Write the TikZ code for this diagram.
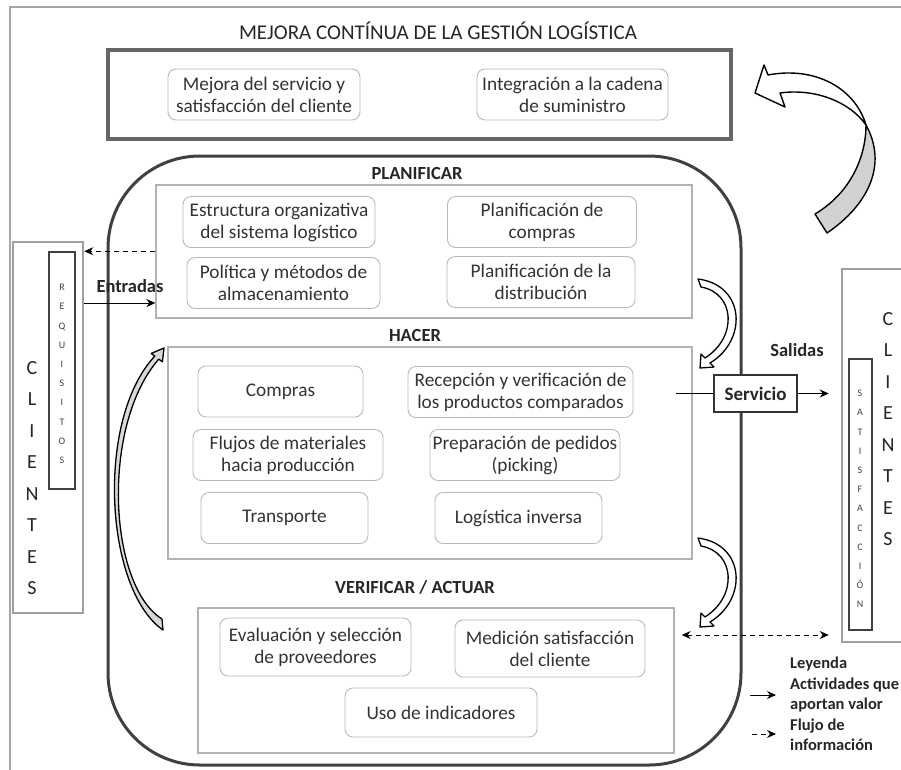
\documentclass[tikz,border=0pt]{standalone}
\usepackage{fontspec}
\setmainfont{Carlito}
\usetikzlibrary{arrows.meta,positioning}

\begin{document}
\begin{tikzpicture}[
    x=1pt, y=-1pt,
    font=\fontsize{19.3}{22}\selectfont,
    act/.style={draw=gray!55,line width=0.9pt,rounded corners=8pt,align=center,
                minimum height=51pt,inner sep=1pt,text=black!80},
    sect/.style={draw=gray!60,line width=1.3pt,inner sep=0pt},
    ttl/.style={font=\fontsize{18.5}{22}\selectfont\bfseries,text=black!85},
    cli/.style={draw=gray!75,line width=2.5pt,inner sep=0pt},
    tag/.style={draw=black!75,line width=1.5pt,inner sep=0pt},
    vert/.style={align=center,inner sep=0pt,text=black!85,
                 font=\fontsize{20}{31.5}\selectfont},
    small/.style={align=center,inner sep=0pt,text=black!75,
                  font=\fontsize{10}{19.2}\selectfont},
    leg/.style={align=left,inner sep=0pt,text=black!85,
                font=\fontsize{16.5}{20.5}\selectfont\bfseries},
    arr/.style={-{Stealth[length=9pt,width=8pt]},line width=1pt},
    darr/.style={arr,dash pattern=on 5pt off 4pt},
    blk/.style={draw=black,line width=1.4pt,line join=round}
  ]
    \useasboundingbox (0,0) rectangle (901,769);
    % outer frame
    \draw[gray!70,line width=1.5pt] (10,790) -- (10,7) -- (920,7);
    \node[font=\fontsize{21}{24}\selectfont,text=black!85] (titulo) at (438,31)
      {MEJORA CONTÍNUA DE LA GESTIÓN LOGÍSTICA};

    % mejora continua
    \node[act,minimum width=192pt] (mejs) at (264,94.5) {Mejora del servicio y\\satisfacción del cliente};
    \node[act,minimum width=191pt] (integ) at (572.5,94.5) {Integración a la cadena\\de suministro};
    \node[draw=black!60,line width=4pt,minimum width=623pt,minimum height=89pt] (mejora) at (419.5,94.5) {};

    % ciclo
    \node[draw=black!75,line width=3pt,rounded corners=92pt,minimum width=633pt,
          minimum height=609pt] (ciclo) at (424.5,460.5) {};

    \node[ttl] (tplan) at (417,173) {PLANIFICAR};
    \node[sect,minimum width=536pt,minimum height=133pt] (plan) at (424,251.5) {};
    \node[act,minimum width=192pt] (estr) at (279,222) {Estructura organizativa\\del sistema logístico};
    \node[act,minimum width=193pt] (poli) at (283.5,283) {Política y métodos de\\almacenamiento};
    \node[act,minimum width=189pt] (pcom) at (542,222) {Planificación de\\compras};
    \node[act,minimum width=188pt] (pdis) at (541,282) {Planificación de la\\distribución};

    \node[ttl] (thacer) at (415,335) {HACER};
    \node[sect,minimum width=524pt,minimum height=212pt] (hacer) at (430,453) {};
    \node[act,minimum width=165pt] (comp) at (280.5,391.5) {Compras};
    \node[act,minimum width=190pt] (fluj) at (288,455) {Flujos de materiales\\hacia producción};
    \node[act,minimum width=167pt] (trans) at (284.5,518) {Transporte};
    \node[act,minimum width=225pt] (recep) at (520.5,392) {Recepción y verificación de\\los productos comparados};
    \node[act,minimum width=190pt] (prep) at (525,455) {Preparación de pedidos\\(picking)};
    \node[act,minimum width=167pt] (linv) at (518.5,518) {Logística inversa};

    \node[ttl] (tverif) at (415,587) {VERIFICAR / ACTUAR};
    \node[sect,minimum width=476pt,minimum height=145pt] (verif) at (436,680.5) {};
    \node[act,minimum width=191pt,minimum height=58pt] (eval) at (315.5,647) {Evaluación y selección\\de proveedores};
    \node[act,minimum width=190pt,minimum height=57pt] (medi) at (550,648.5) {Medición satisfacción\\del cliente};
    \node[act,minimum width=192pt,minimum height=49pt] (indi) at (441,712.5) {Uso de indicadores};

    % clientes
    \node[cli,minimum width=70pt,minimum height=371pt] (clil) at (48,427.5) {};
    \node[tag,minimum width=26pt,minimum height=237pt] (req) at (62,370.5) {};
    \node[vert] (cltxt) at (32,478) {C\\L\\I\\E\\N\\T\\E\\S};
    \node[small] (reqtxt) at (62,374) {R\\E\\Q\\U\\I\\S\\I\\T\\O\\S};

    \node[cli,minimum width=98pt,minimum height=373pt] (clir) at (891,455.5) {};
    \node[tag,minimum width=23pt,minimum height=271pt] (sat) at (860.5,494.5) {};
    \node[vert] (crtxt) at (888,429) {C\\L\\I\\E\\N\\T\\E\\S};
    \node[small] (sattxt) at (860,499) {S\\A\\T\\I\\S\\F\\A\\C\\C\\I\\Ó\\N};

    % entradas y salidas
    \node[ttl] (entr) at (130,286) {Entradas};
    \node[ttl] (sali) at (797,350) {Salidas};
    \node[draw=black!80,fill=white,line width=1.5pt,minimum width=83pt,minimum height=37pt,
          font=\fontsize{19}{22}\selectfont\bfseries,text=black!85] (serv) at (755.5,393.5) {Servicio};

    \coordinate (entra) at (0,303);
    \coordinate (info) at (0,635);
    \draw[darr] (req.north -| plan.west) -- (req.north -| clil.east);
    \draw[arr] (entra -| clil.east) -- (entra -| plan.west);
    \draw[line width=1pt,shorten <=43pt] (serv.west -| recep.east) -- (serv.west);
    \draw[arr,shorten >=12pt] (serv.east) -- (serv.east -| clir.west);
    \draw[{Stealth[length=9pt,width=8pt]}-{Stealth[length=9pt,width=8pt]},line width=1pt,
          dash pattern=on 5pt off 4pt,shorten <=7pt,shorten >=12pt] (info -| verif.east) -- (info -| clir.west);

    % leyenda
    \node[leg,anchor=north west] (leyenda) at (790,657)
      {Leyenda\\Actividades que\\aportan valor\\Flujo de\\información};
    \coordinate (lsol) at (750,695);
    \coordinate (ldas) at (752,734);
    \draw[arr,shorten >=14pt] (lsol) -- (lsol -| leyenda.west);
    \draw[darr,shorten >=14pt] (ldas) -- (ldas -| leyenda.west);

    % flechas curvas
    \filldraw[blk,fill=white] (755,93) -- (764,65) -- (768,75)
      .. controls (815,66) and (855,88) .. (866,125)
      .. controls (850,102) and (815,88) .. (780,93) -- (785,107) -- cycle;
    \filldraw[blk,fill=gray!35] (866,125) .. controls (888,165) and (868,205) .. (827,233)
      -- (815,214) .. controls (852,192) and (866,155) .. (866,125) -- cycle;
    \foreach \dy in {0,259}
      \filldraw[blk,fill=white,line width=1.3pt,shift={(0,\dy)}] (698,279)
        .. controls (745,285) and (748,340) .. (710,363) -- (714,367) -- (700,368)
        -- (701,354) -- (705,358) .. controls (738,337) and (735,293) .. (701,287) -- cycle;
    \filldraw[blk,fill=gray!30,line width=1.3pt] (163,630)
      .. controls (105,590) and (95,420) .. (154.8,356.1) -- (151.2,353.4) -- (164,348)
      -- (162.4,361.8) -- (158.8,359.1) .. controls (101,425) and (108,585) .. (162,619) -- cycle;
\end{tikzpicture}
\end{document}
